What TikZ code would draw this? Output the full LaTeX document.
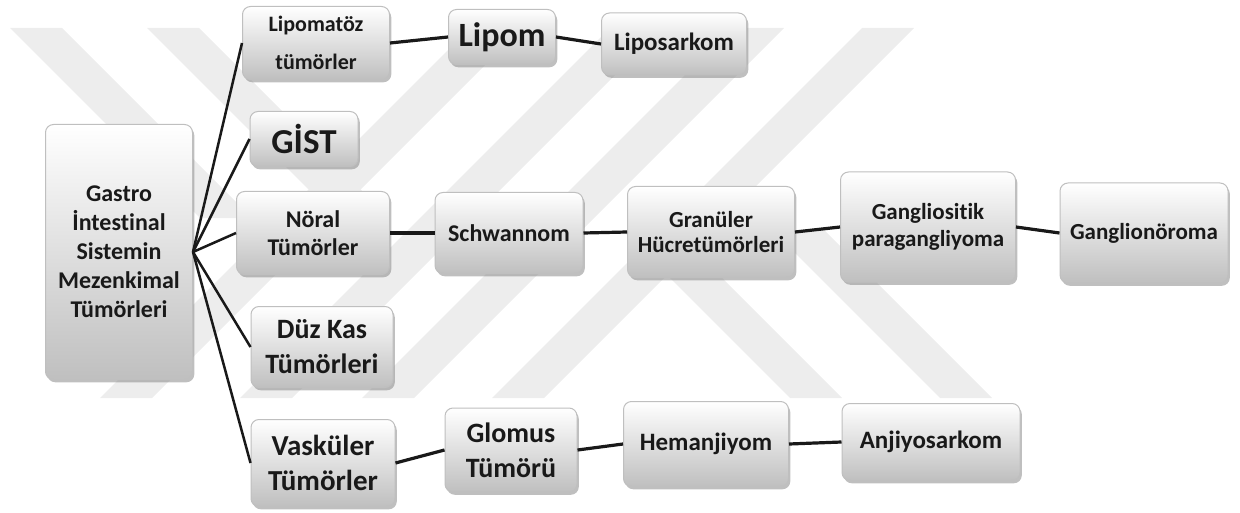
\documentclass[tikz,border=0pt]{standalone}
\usepackage{fontspec}
\setmainfont{Carlito}[Ligatures=NoCommon]
\usetikzlibrary{shadows}

\begin{document}
\begin{tikzpicture}[x=0.5pt, y=-0.5pt,
    box/.style={draw=black!25, line width=0.5pt, rounded corners=4pt,
        top color=white, bottom color=black!25, align=center,
        text=black!90, inner sep=1pt,
        drop shadow={shadow xshift=0.9pt, shadow yshift=-1.4pt, opacity=0.5}},
    boxsize/.style 2 args={minimum width={#1*0.5pt}, minimum height={#2*0.5pt}},
    fs/.style 2 args={font=\bfseries\fontsize{#1}{#2}\selectfont},
    link/.style={line width=1.6pt, black!90},
    fan/.style={line width=1.25pt, black!90},
    band/.style={fill=black!7, draw=none}]
    \useasboundingbox (0,0) rectangle (1240,513);

    % watermark
    \foreach \x in {470,610,732,862}
        \fill[band] (\x,28) -- (\x+52,28) -- (\x-318,398) -- (\x-370,398) -- cycle;
    \fill[band] (10,28) -- (62,28) -- (252,218) -- (200,218) -- cycle;
    \fill[band] (147,28) -- (199,28) -- (376,205) -- (324,205) -- cycle;
    \fill[band] (622,230) -- (674,230) -- (842,398) -- (790,398) -- cycle;
    \fill[band] (772,230) -- (824,230) -- (992,398) -- (940,398) -- cycle;

    \node[box, boxsize={147}{255}, fs={12}{14.5}] (root) at (119,252)
        {Gastro\\İntestinal\\Sistemin\\Mezenkimal\\Tümörleri};

    \node[box, boxsize={147}{73}, fs={11}{19}] (lipomatoz) at (316,43) {Lipomatöz\\tümörler};
    \node[box, boxsize={107}{55}, fs={17}{20}] (lipom) at (502,37) {Lipom};
    \node[box, boxsize={145}{62}, fs={12.5}{15}] (liposarkom) at (674,44) {Liposarkom};

    \node[box, boxsize={108}{55}, fs={17.5}{20}] (gist) at (304,139) {GİST};

    \node[box, boxsize={153}{83}, fs={12}{14}] (noral) at (313,233) {Nöral\\Tümörler};
    \node[box, boxsize={148}{81}, fs={12}{14}] (schwannom) at (509,233) {Schwannom};
    \node[box, boxsize={167}{91}, fs={11.5}{12.5}] (granuler) at (711,232) {Granüler\\Hücretümörleri};
    \node[box, boxsize={175}{110}, fs={11.5}{13.5}] (gangliositik) at (928,227) {Gangliositik\\paragangliyoma};
    \node[box, boxsize={168}{100}, fs={11.5}{13.5}] (ganglionoroma) at (1144,233) {Ganglionöroma};

    \node[box, boxsize={142}{81}, fs={14}{17.5}] (duzkas) at (322,347) {Düz Kas\\Tümörleri};

    \node[box, boxsize={144}{87}, fs={14.5}{17.5}] (vaskuler) at (323,463) {Vasküler\\Tümörler};
    \node[box, boxsize={132}{84}, fs={14}{17.5}] (glomus) at (511,450) {Glomus\\Tümörü};
    \node[box, boxsize={165}{85}, fs={12.5}{15}] (hemanjiyom) at (706,444) {Hemanjiyom};
    \node[box, boxsize={178}{77}, fs={12.5}{15}] (anjiyosarkom) at (931,442) {Anjiyosarkom};

    \foreach \n in {lipomatoz,gist,noral,duzkas,vaskuler}
        \draw[fan] (root.east) -- (\n.west);

    \draw[link] (lipomatoz.east) -- (lipom.west);
    \draw[link] (lipom.east) -- (liposarkom.west);
    \draw[link] (noral.east) -- (schwannom.west);
    \draw[link] (schwannom.east) -- (granuler.west);
    \draw[link] (granuler.east) -- (gangliositik.west);
    \draw[link] (gangliositik.east) -- (ganglionoroma.west);
    \draw[link] (vaskuler.east) -- (glomus.west);
    \draw[link] (glomus.east) -- (hemanjiyom.west);
    \draw[link] (hemanjiyom.east) -- (anjiyosarkom.west);
\end{tikzpicture}
\end{document}
